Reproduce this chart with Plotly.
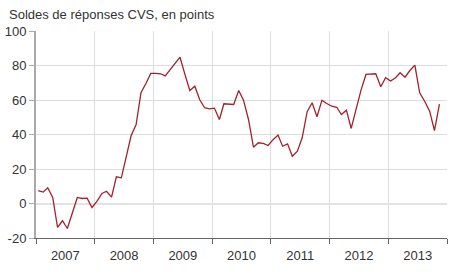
import pandas as pd
import plotly.graph_objects as go

months = pd.date_range("2007-01-01", periods=83, freq="MS") + pd.Timedelta(days=14)

values = [
    7.5, 6.6, 9.1, 3.5, -13.9, -10.0, -14.5, -5.0, 3.5, 2.9, 3.1, -2.3,
    1.2, 5.8, 7.1, 3.7, 15.5, 14.9, 27.4, 39.4, 45.8, 64.2, 69.6, 75.4,
    75.4, 75.2, 74.0, 77.7, 81.0, 84.8, 75.0, 65.5, 68.0, 60.3, 55.5, 54.9,
    55.3, 48.7, 57.8, 57.4, 57.4, 65.5, 59.9, 48.7, 32.6, 35.2, 34.8, 33.6,
    37.0, 39.7, 33.2, 34.6, 27.4, 30.3, 38.1, 53.2, 58.4, 50.3, 59.9, 58.0,
    56.4, 55.8, 51.6, 54.1, 43.5, 54.9, 65.7, 74.8, 75.0, 75.2, 67.7, 72.9,
    71.0, 72.9, 75.8, 73.2, 77.1, 80.2, 64.2, 59.3, 53.5, 42.3, 57.6,
]

title_text = "Soldes de réponses CVS, en points"
y_ticks = [-20, 0, 20, 40, 60, 80, 100]
y_tick_labels = ["-20", "0", "20", "40", "60", "80", "100"]

fig = go.Figure()
fig.add_trace(go.Scatter(
    x=months, y=values, mode="lines",
    line=dict(color="#a0222c", width=1.3),
    hoverinfo="skip",
))

fig.update_layout(
    width=450, height=279,
    margin=dict(l=36, r=3, t=31, b=41),
    paper_bgcolor="white", plot_bgcolor="white",
    showlegend=False,
    font=dict(family="Liberation Sans, Arial, sans-serif", size=13, color="#333333"),
    annotations=[dict(
        text=title_text, xref="paper", yref="paper", x=0, y=1,
        xanchor="left", yanchor="bottom", xshift=-29, yshift=7,
        showarrow=False, font=dict(size=13, color="#333333"),
    )],
)

fig.update_xaxes(
    type="date",
    range=["2007-01-01", "2014-01-01"],
    tick0="2007-01-01", dtick="M12",
    ticklabelmode="period", tickformat="%Y",
    showgrid=True, gridcolor="#dddddd", gridwidth=1,
    ticks="outside", ticklen=5, tickcolor="#666666",
    showline=True, linecolor="#666666", linewidth=1,
    tickfont=dict(size=13, color="#333333"),
)
fig.update_yaxes(
    range=[-20, 100], tickvals=y_ticks, ticktext=y_tick_labels,
    showgrid=True, gridcolor="#dddddd", gridwidth=1,
    zeroline=True, zerolinecolor="#e3e3e3", zerolinewidth=2,
    ticks="outside", ticklen=5, tickcolor="#aaaaaa",
    showline=True, linecolor="#aaaaaa", linewidth=2,
    tickfont=dict(size=13, color="#333333"),
)

fig.write_html("out.html")
